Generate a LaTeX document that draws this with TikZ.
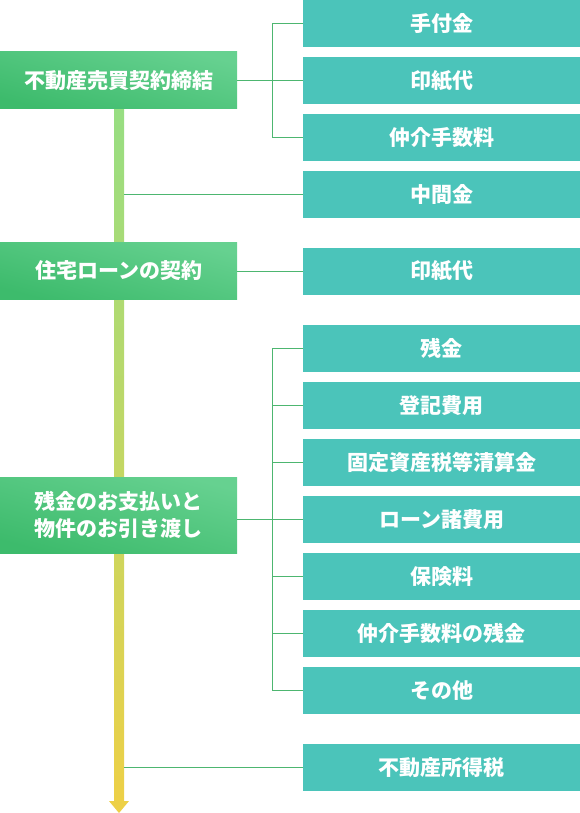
\documentclass[tikz,border=0pt]{standalone}
\usepackage{fontspec}
\newfontfamily\jp{Noto Sans CJK JP}
\usepackage{tikz}
\usetikzlibrary{positioning}
\definecolor{stepgreen}{HTML}{3DBB6C}
\definecolor{steplight}{HTML}{66D190}
\definecolor{costteal}{HTML}{4BC4BA}
\definecolor{linkgreen}{HTML}{4DB670}
\definecolor{bartop}{HTML}{96DE83}
\definecolor{barmid}{HTML}{C5D965}
\definecolor{barbot}{HTML}{EDD047}

\tikzset{
  stage/.style={inner sep=0pt, minimum width=237pt, minimum height=57pt, anchor=west,
    top color=steplight, bottom color=stepgreen, shading angle=-15, text=white,
    align=center, font=\jp\bfseries\fontsize{21pt}{27pt}\selectfont},
  cost/.style={inner sep=0pt, minimum width=277pt, minimum height=47pt, anchor=west,
    fill=costteal, text=white, font=\jp\bfseries\fontsize{21pt}{24pt}\selectfont},
  link/.style={draw=linkgreen, line width=1pt}
}

\begin{document}
\begin{tikzpicture}[x=1pt, y=-1pt]
\useasboundingbox (0,0) rectangle (580,813);

% time line
\shade[top color=bartop, middle color=barmid, bottom color=barbot] (114,100) rectangle (124,801);
\fill[barbot] (109,801) -- (129,801) -- (119,813) -- cycle;
\coordinate (bar) at (124,0);

% stages
\node[stage] (n1) at (0,80.5) {不動産売買契約締結};
\node[stage] (n2) at (0,270.5) {住宅ローンの契約};
\node[stage, minimum height=76pt] (n3) at (0,515) {残金のお支払いと\\物件のお引き渡し};

% costs
\node[cost] (a1) at (303,23.5) {手付金};
\node[cost] (a2) at (303,80.5) {印紙代};
\node[cost] (a3) at (303,137.5) {仲介手数料};
\node[cost] (a4) at (303,194.5) {中間金};
\node[cost] (b1) at (303,271) {印紙代};
\node[cost] (c1) at (303,348.5) {残金};
\node[cost] (c2) at (303,405.5) {登記費用};
\node[cost] (c3) at (303,462.5) {固定資産税等清算金};
\node[cost] (c4) at (303,519.5) {ローン諸費用};
\node[cost] (c5) at (303,576.5) {保険料};
\node[cost] (c6) at (303,633.5) {仲介手数料の残金};
\node[cost] (c7) at (303,690.5) {その他};
\node[cost] (d1) at (303,767.5) {不動産所得税};

% links
\coordinate (k1) at (272,0);
\draw[link] (a2.west) -- (a2.west -| n1.east);
\draw[link] (a1.west) -- (a1.west -| k1) -- (a3.west -| k1) -- (a3.west);
\draw[link] (a4.west) -- (a4.west -| bar);
\draw[link] (b1.west) -- (b1.west -| n2.east);
\draw[link] (c4.west) -- (c4.west -| n3.east);
\draw[link] (c1.west) -- (c1.west -| k1) -- (c7.west -| k1) -- (c7.west);
\foreach \c in {c2,c3,c5,c6}
  \draw[link] (\c.west) -- (\c.west -| k1);
\draw[link] (d1.west) -- (d1.west -| bar);
\end{tikzpicture}
\end{document}
